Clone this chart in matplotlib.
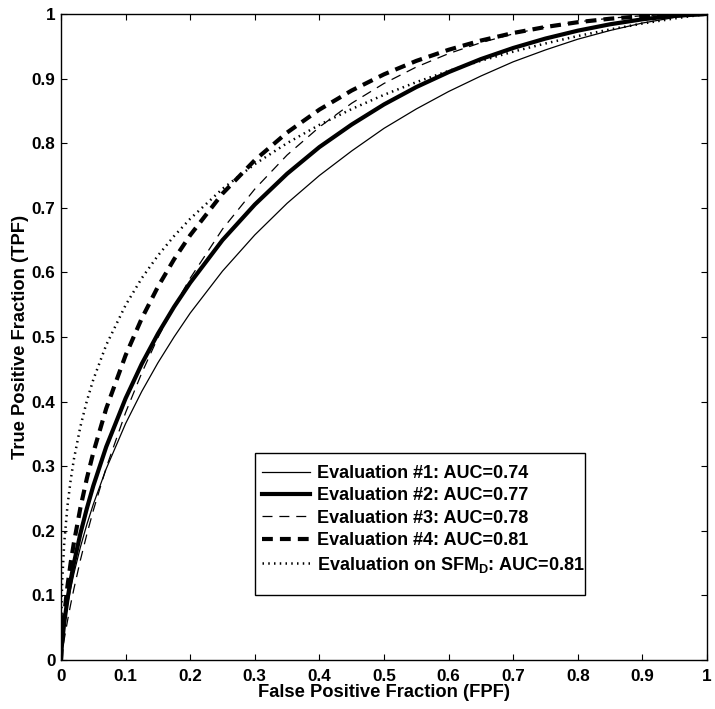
import matplotlib
matplotlib.use("Agg")
import matplotlib.pyplot as plt
from matplotlib.patches import Rectangle

plt.rcParams['font.family'] = ['Liberation Sans', 'DejaVu Sans']
plt.rcParams['font.weight'] = 'bold'
plt.rcParams['mathtext.fontset'] = 'custom'
plt.rcParams['mathtext.rm'] = 'Liberation Sans:bold'
plt.rcParams['mathtext.bf'] = 'Liberation Sans:bold'
plt.rcParams['mathtext.it'] = 'Liberation Sans:bold'
plt.rcParams['mathtext.default'] = 'bf'

# FPF sampling (x values) shared by all curves
fpf = [0.0, 0.001, 0.002, 0.005, 0.01, 0.015, 0.02, 0.03, 0.04, 0.05, 0.07, 0.1,
       0.125, 0.15, 0.175, 0.2, 0.25, 0.3, 0.35, 0.4, 0.45, 0.5, 0.55, 0.6, 0.65,
       0.7, 0.75, 0.8, 0.85, 0.9, 0.95, 1.0]

# TPF values
tpf_eval1 = [0.0, 0.0165, 0.0272, 0.0522, 0.0843, 0.1109, 0.134, 0.1746, 0.2098, 0.241,
             0.296, 0.366, 0.4157, 0.460, 0.500, 0.537, 0.602, 0.658, 0.707, 0.750,
             0.788, 0.823, 0.853, 0.880, 0.904, 0.926, 0.9444, 0.961, 0.9745, 0.986,
             0.9947, 1.0]
tpf_eval2 = [0.0, 0.0177, 0.0298, 0.0579, 0.0941, 0.124, 0.150, 0.1957, 0.2345, 0.2696,
             0.330, 0.405, 0.4584, 0.505, 0.5466, 0.584, 0.650, 0.705, 0.7527, 0.794,
             0.8289, 0.860, 0.8869, 0.910, 0.9302, 0.9474, 0.962, 0.9742, 0.9841, 0.9918,
             0.9972, 1.0]
tpf_eval3 = [0.0, 0.0068, 0.0134, 0.0321, 0.0604, 0.0863, 0.1103, 0.1546, 0.1946, 0.2315,
             0.2977, 0.383, 0.4443, 0.499, 0.547, 0.591, 0.667, 0.729, 0.7817, 0.825,
             0.8619, 0.8925, 0.9179, 0.9387, 0.9556, 0.9692, 0.9798, 0.9878, 0.9935,
             0.9973, 0.9993, 1.0]
tpf_eval4 = [0.0, 0.021, 0.0357, 0.0701, 0.1143, 0.1506, 0.1817, 0.2355, 0.281, 0.321,
             0.3893, 0.4717, 0.5287, 0.5777, 0.6202, 0.6576, 0.722, 0.7737, 0.8165, 0.852,
             0.8816, 0.9066, 0.9274, 0.9446, 0.9589, 0.9706, 0.9799, 0.9873, 0.9927,
             0.9966, 0.9990, 1.0]
tpf_sfm = [0.0, 0.093, 0.1247, 0.1812, 0.2386, 0.2789, 0.311, 0.3613, 0.4009, 0.434,
           0.4876, 0.5493, 0.591, 0.626, 0.6562, 0.683, 0.7294, 0.7676, 0.8001, 0.8284,
           0.8529, 0.8749, 0.8945, 0.9118, 0.9276, 0.9417, 0.9544, 0.9659, 0.9761,
           0.9852, 0.9932, 1.0]

labels = ['Evaluation #1: AUC=0.74',
          'Evaluation #2: AUC=0.77',
          'Evaluation #3: AUC=0.78',
          'Evaluation #4: AUC=0.81',
          r'Evaluation on SFM$_{D}$: AUC=0.81']

ticks = [0, 0.1, 0.2, 0.3, 0.4, 0.5, 0.6, 0.7, 0.8, 0.9, 1]
tick_labels = ['0', '0.1', '0.2', '0.3', '0.4', '0.5', '0.6', '0.7', '0.8', '0.9', '1']

fig = plt.figure(figsize=(7.15, 7.09), dpi=100)
ax = fig.add_axes([61/715, 49/709, 646/715, 646/709])

ax.plot(fpf, tpf_eval1, color='black', lw=0.9, linestyle='-', label=labels[0])
ax.plot(fpf, tpf_eval2, color='black', lw=3.0, linestyle='-', label=labels[1])
ax.plot(fpf, tpf_eval3, color='black', lw=0.9, linestyle=(0, (8, 5.5)), label=labels[2])
ax.plot(fpf, tpf_eval4, color='black', lw=3.0, linestyle=(0, (2.6, 1.7)), label=labels[3])
ax.plot(fpf, tpf_sfm, color='black', lw=1.8, linestyle=(0, (0.6, 1.7)), label=labels[4])

ax.set_xlim(0, 1)
ax.set_ylim(0, 1)
ax.set_xticks(ticks)
ax.set_xticklabels(tick_labels)
ax.set_yticks(ticks)
ax.set_yticklabels(tick_labels)
ax.tick_params(direction='in', length=4.5, width=0.8, top=True, right=True,
               labelsize=12.3)
ax.tick_params(axis='x', pad=6.5)
ax.tick_params(axis='y', pad=4)
for s in ax.spines.values():
    s.set_linewidth(1.0)
    s.set_color('black')

ax.set_xlabel('False Positive Fraction (FPF)', fontsize=13.2, fontweight='bold', labelpad=0)
ax.set_ylabel('True Positive Fraction (TPF)', fontsize=13.2, fontweight='bold', labelpad=2)

# legend frame
box = Rectangle((0.3003, 0.1006), 0.5108, 0.2198, transform=ax.transAxes,
                facecolor='white', edgecolor='black', lw=1.0, zorder=4)
ax.add_patch(box)

leg = ax.legend(loc='upper left', bbox_to_anchor=(0.3003, 0.3127), fontsize=13,
                frameon=False, handlelength=2.65, handletextpad=0.39, borderpad=0.38,
                labelspacing=0.3, borderaxespad=0)
leg.set_zorder(5)

fig.savefig('out.png', dpi=100)
